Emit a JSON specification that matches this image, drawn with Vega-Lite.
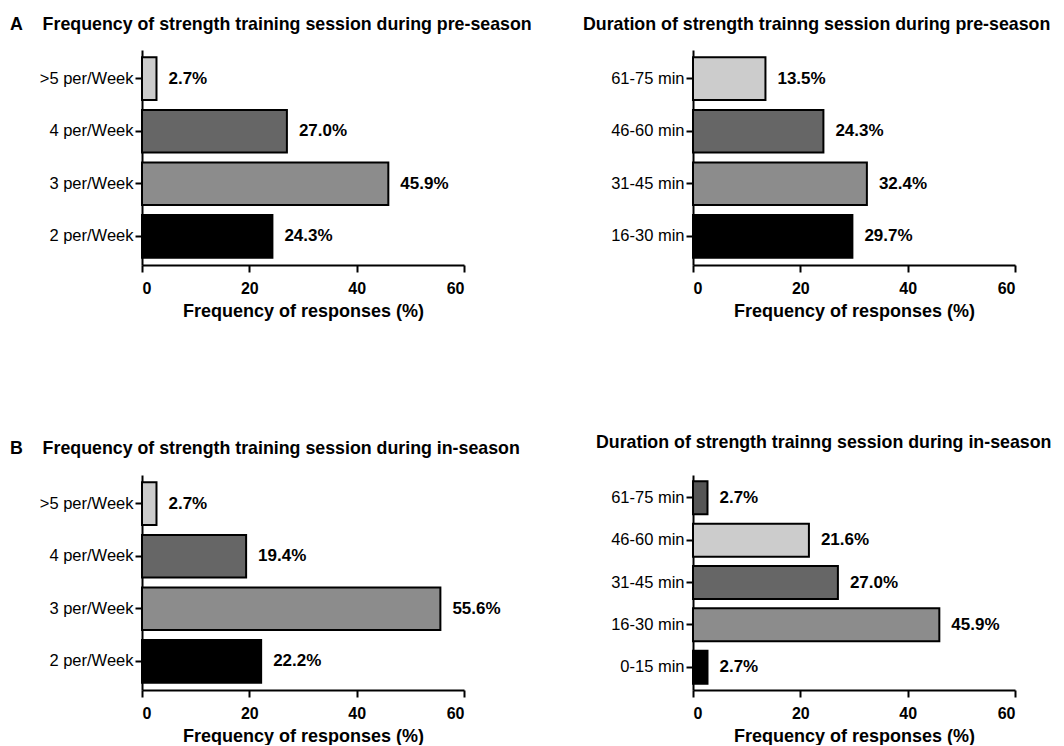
{
  "$schema": "https://vega.github.io/schema/vega-lite/v6.json",
  "background": "white",
  "padding": {"left": 10, "top": 15, "right": 5, "bottom": 0},
  "config": {
    "font": "Liberation Sans",
    "view": {"stroke": null},
    "axis": {"domainColor": "black", "domainWidth": 2, "tickColor": "black", "tickWidth": 2, "tickSize": 7, "labelColor": "black", "grid": false, "titleColor": "black"},
    "axisY": {"labelFontSize": 16.5, "labelFontWeight": "normal", "labelPadding": 2},
    "axisX": {"labelFontSize": 16, "labelFontWeight": "bold", "labelPadding": 8, "titleFontSize": 18, "titleFontWeight": "bold", "titlePadding": 6},
    "title": {"fontSize": 17.8, "fontWeight": "bold", "anchor": "start", "color": "black", "frame": "group"}
  },
  "resolve": {"scale": {"color": "independent"}},
  "datasets": {
    "preFreq": [
      {"cat": ">5 per/Week", "value": 2.7, "label": "2.7%"},
      {"cat": "4 per/Week", "value": 27.0, "label": "27.0%"},
      {"cat": "3 per/Week", "value": 45.9, "label": "45.9%"},
      {"cat": "2 per/Week", "value": 24.3, "label": "24.3%"}
    ],
    "preDur": [
      {"cat": "61-75 min", "value": 13.5, "label": "13.5%"},
      {"cat": "46-60 min", "value": 24.3, "label": "24.3%"},
      {"cat": "31-45 min", "value": 32.4, "label": "32.4%"},
      {"cat": "16-30 min", "value": 29.7, "label": "29.7%"}
    ],
    "inFreq": [
      {"cat": ">5 per/Week", "value": 2.7, "label": "2.7%"},
      {"cat": "4 per/Week", "value": 19.4, "label": "19.4%"},
      {"cat": "3 per/Week", "value": 55.6, "label": "55.6%"},
      {"cat": "2 per/Week", "value": 22.2, "label": "22.2%"}
    ],
    "inDur": [
      {"cat": "61-75 min", "value": 2.7, "label": "2.7%"},
      {"cat": "46-60 min", "value": 21.6, "label": "21.6%"},
      {"cat": "31-45 min", "value": 27.0, "label": "27.0%"},
      {"cat": "16-30 min", "value": 45.9, "label": "45.9%"},
      {"cat": "0-15 min", "value": 2.7, "label": "2.7%"}
    ]
  },
  "columns": 2,
  "spacing": {"row": 210, "column": 229},
  "bounds": "flush",
  "concat": [
    {
      "width": 322, "height": 215,
      "data": {"name": "preFreq"},
      "title": {"text": "A\u00a0\u00a0\u00a0\u00a0Frequency of strength training session during pre-season", "dx": -132, "offset": 16.5},
      "encoding": {
        "y": {"field": "cat", "type": "nominal", "sort": [">5 per/Week", "4 per/Week", "3 per/Week", "2 per/Week"], "scale": {"paddingInner": 0.19, "paddingOuter": 0.14}, "axis": {"title": null}},
        "x": {"field": "value", "type": "quantitative", "scale": {"domain": [0, 60], "nice": false}, "axis": {"values": [0, 20, 40, 60], "title": "Frequency of responses (%)"}}
      },
      "layer": [
        {"mark": {"type": "bar", "stroke": "black", "strokeWidth": 2}, "encoding": {"color": {"field": "cat", "type": "nominal", "scale": {"domain": [">5 per/Week", "4 per/Week", "3 per/Week", "2 per/Week"], "range": ["#cccccc", "#666666", "#8c8c8c", "#000000"]}, "legend": null}}},
        {"mark": {"type": "text", "align": "left", "baseline": "middle", "dx": 12, "fontSize": 17, "fontWeight": "bold", "color": "black"}, "encoding": {"text": {"field": "label"}}}
      ]
    },
    {
      "width": 322, "height": 215,
      "data": {"name": "preDur"},
      "title": {"text": "Duration of strength trainng session during pre-season", "dx": -110, "offset": 16.5},
      "encoding": {
        "y": {"field": "cat", "type": "nominal", "sort": ["61-75 min", "46-60 min", "31-45 min", "16-30 min"], "scale": {"paddingInner": 0.19, "paddingOuter": 0.14}, "axis": {"title": null}},
        "x": {"field": "value", "type": "quantitative", "scale": {"domain": [0, 60], "nice": false}, "axis": {"values": [0, 20, 40, 60], "title": "Frequency of responses (%)"}}
      },
      "layer": [
        {"mark": {"type": "bar", "stroke": "black", "strokeWidth": 2}, "encoding": {"color": {"field": "cat", "type": "nominal", "scale": {"domain": ["61-75 min", "46-60 min", "31-45 min", "16-30 min"], "range": ["#cccccc", "#666666", "#8c8c8c", "#000000"]}, "legend": null}}},
        {"mark": {"type": "text", "align": "left", "baseline": "middle", "dx": 12, "fontSize": 17, "fontWeight": "bold", "color": "black"}, "encoding": {"text": {"field": "label"}}}
      ]
    },
    {
      "width": 322, "height": 215,
      "data": {"name": "inFreq"},
      "title": {"text": "B\u00a0\u00a0\u00a0\u00a0Frequency of strength training session during in-season", "dx": -132, "offset": 17},
      "encoding": {
        "y": {"field": "cat", "type": "nominal", "sort": [">5 per/Week", "4 per/Week", "3 per/Week", "2 per/Week"], "scale": {"paddingInner": 0.19, "paddingOuter": 0.14}, "axis": {"title": null}},
        "x": {"field": "value", "type": "quantitative", "scale": {"domain": [0, 60], "nice": false}, "axis": {"values": [0, 20, 40, 60], "title": "Frequency of responses (%)"}}
      },
      "layer": [
        {"mark": {"type": "bar", "stroke": "black", "strokeWidth": 2}, "encoding": {"color": {"field": "cat", "type": "nominal", "scale": {"domain": [">5 per/Week", "4 per/Week", "3 per/Week", "2 per/Week"], "range": ["#cccccc", "#666666", "#8c8c8c", "#000000"]}, "legend": null}}},
        {"mark": {"type": "text", "align": "left", "baseline": "middle", "dx": 12, "fontSize": 17, "fontWeight": "bold", "color": "black"}, "encoding": {"text": {"field": "label"}}}
      ]
    },
    {
      "width": 322, "height": 215,
      "data": {"name": "inDur"},
      "title": {"text": "Duration of strength trainng session during in-season", "dx": -97, "offset": 23},
      "encoding": {
        "y": {"field": "cat", "type": "nominal", "sort": ["61-75 min", "46-60 min", "31-45 min", "16-30 min", "0-15 min"], "scale": {"paddingInner": 0.22, "paddingOuter": 0.15}, "axis": {"title": null}},
        "x": {"field": "value", "type": "quantitative", "scale": {"domain": [0, 60], "nice": false}, "axis": {"values": [0, 20, 40, 60], "title": "Frequency of responses (%)"}}
      },
      "layer": [
        {"mark": {"type": "bar", "stroke": "black", "strokeWidth": 2}, "encoding": {"color": {"field": "cat", "type": "nominal", "scale": {"domain": ["61-75 min", "46-60 min", "31-45 min", "16-30 min", "0-15 min"], "range": ["#555555", "#cccccc", "#666666", "#8c8c8c", "#000000"]}, "legend": null}}},
        {"mark": {"type": "text", "align": "left", "baseline": "middle", "dx": 12, "fontSize": 17, "fontWeight": "bold", "color": "black"}, "encoding": {"text": {"field": "label"}}}
      ]
    }
  ]
}
